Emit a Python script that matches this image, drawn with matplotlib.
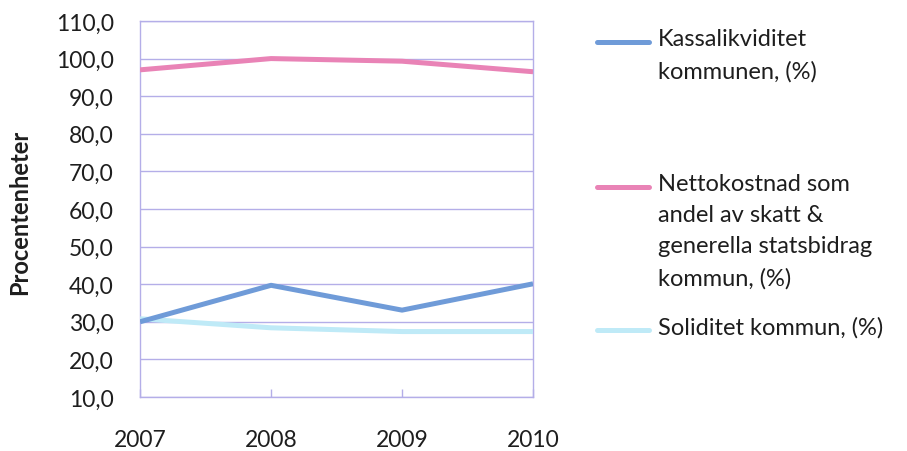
import matplotlib.pyplot as plt
from matplotlib.lines import Line2D
from matplotlib.ticker import FuncFormatter

plt.rcParams['font.family'] = ['Lato', 'DejaVu Sans']

# data
years = ["2007", "2008", "2009", "2010"]
kassalikviditet = [30.0, 39.7, 33.1, 40.1]
nettokostnad = [97.0, 100.0, 99.3, 96.5]
soliditet = [30.8, 28.4, 27.4, 27.4]

labels = [
    "Kassalikviditet\nkommunen, (%)",
    "Nettokostnad som\nandel av skatt &\ngenerella statsbidrag\nkommun, (%)",
    "Soliditet kommun, (%)",
]
colors = ["#6f9bd8", "#e983b6", "#bfeaf7"]
grid_color = "#b4aee8"
text_color = "#1e1e1e"

fig = plt.figure(figsize=(9.07, 4.52), dpi=100)
ax = fig.add_axes([0.1544, 0.1195, 0.4333, 0.8319])

x = range(len(years))
ax.plot(x, nettokostnad, color=colors[1], lw=3.6, solid_capstyle="butt", zorder=3)
ax.plot(x, soliditet, color=colors[2], lw=3.6, solid_capstyle="butt", zorder=3)
ax.plot(x, kassalikviditet, color=colors[0], lw=3.6, solid_capstyle="butt", zorder=4)

ax.set_xlim(0, 3)
ax.set_ylim(10, 110)
ax.set_yticks(range(10, 111, 10))
ax.yaxis.set_major_formatter(FuncFormatter(lambda v, p: f"{v:.1f}".replace(".", ",")))
ax.set_xticks(list(x))
ax.set_xticklabels(years)

ax.tick_params(axis="y", length=0, pad=19, labelsize=16.5, labelcolor=text_color)
ax.tick_params(axis="x", direction="in", length=6, width=1, color=grid_color,
               pad=23, labelsize=16.5, labelcolor=text_color)

ax.grid(axis="y", color=grid_color, lw=1)
ax.set_axisbelow(True)
for side in ax.spines.values():
    side.set_color(grid_color)
    side.set_linewidth(1)

fig.text(0.022, 0.53, "Procentenheter", rotation=90, ha="center", va="center",
         fontsize=17, fontweight="bold", color=text_color)

# legend, placed by hand
entries = [(0.905, labels[0]), (0.585, labels[1]), (0.268, labels[2])]
for (yy, lab), col in zip(entries, colors):
    fig.add_artist(Line2D([0.658, 0.716], [yy, yy], color=col, lw=3.6,
                          solid_capstyle="round", transform=fig.transFigure))
    fig.text(0.725, yy + 0.03, lab, ha="left", va="top", fontsize=17,
             color=text_color, linespacing=1.6)

fig.savefig("out.png", dpi=100)
